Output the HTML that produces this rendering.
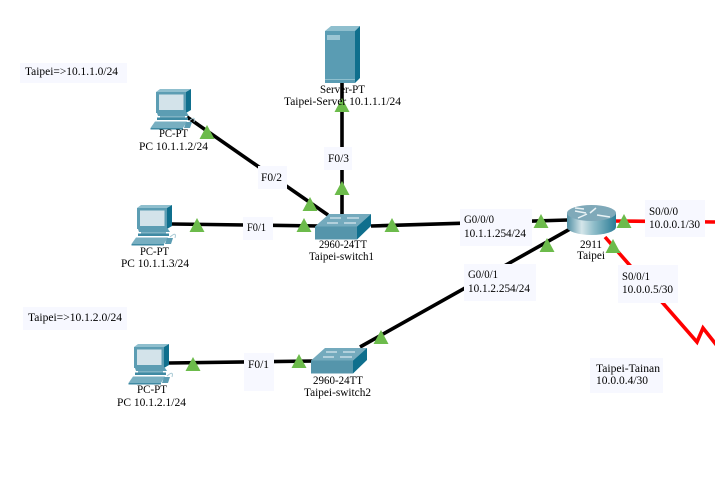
<!DOCTYPE html>
<html>
<head>
<meta charset="utf-8">
<style>
html,body{margin:0;padding:0;background:#fff;width:715px;height:486px;overflow:hidden}
svg{display:block}
text{font-family:"Liberation Serif","Noto Serif CJK SC",serif;font-size:12px;fill:#000}
</style>
</head>
<body>
<svg width="715" height="486" viewBox="0 0 715 486" xmlns="http://www.w3.org/2000/svg">
<defs>
<linearGradient id="rg" x1="0" x2="1" y1="0" y2="0">
<stop offset="0" stop-color="#4f8ea3"/><stop offset=".3" stop-color="#d5e6ea"/><stop offset=".55" stop-color="#8fbdc9"/><stop offset="1" stop-color="#2b7c96"/>
</linearGradient>
<g id="pc">
<polygon points="0,3 4,0 35,0 30,3" fill="#8fbfce"/>
<rect x="0" y="3" width="30" height="21" fill="#5c9db3"/>
<polygon points="30,3 35,0 35,21 30,24" fill="#0f6f8d"/>
<rect x="3" y="5.500" width="24.500" height="15.500" fill="#d3e3ea"/>
<polygon points="1,24 31,24 33,27 2,27" fill="#5c9db3"/>
<polygon points="4,27 29,27 29,31 4,31" fill="#7fb2c3"/>
<polygon points="1,28.500 32,28.500 32,31 1,31" fill="#3f8aa3"/>
<polygon points="-5.500,39 -1,32.500 31,32.500 27,39" fill="#78afc1"/>
<polygon points="-5.500,39 27,39 27,40.500 -5.500,40.500" fill="#3f8aa3"/>
<polygon points="28,39 30,33 36,33 34,39" fill="#5c9db3"/>
<path d="M33,32 Q40,26 38,33" fill="none" stroke="#a8c9d4" stroke-width="1"/>
</g>
<g id="sw">
<polygon points="0,12.500 14,0 56,0 42,12.500" fill="#74aabd"/>
<rect x="0" y="12.500" width="42" height="13" fill="#5595ab"/>
<polygon points="42,12.500 56,0 56,12 42,25.500" fill="#0f6f8d"/>
<path d="M15,4 H26 M32,4 H44 M12,9 H23 M29,9 H41" stroke="#d7e8ee" stroke-width="1.200"/>
</g>
<polygon id="t" points="0,0 7.500,14 -7.500,14" fill="#6cbb4b"/>
</defs>

<g fill="none" stroke="#000" stroke-width="3.600">
<line x1="187" y1="117" x2="328" y2="215"/>
<line x1="172" y1="224" x2="320" y2="226"/>
<line x1="342" y1="83" x2="342" y2="215"/>
<line x1="371" y1="226" x2="568" y2="220"/>
<line x1="360" y1="347" x2="570" y2="229"/>
<line x1="169" y1="363" x2="315" y2="361"/>
</g>
<g fill="none" stroke="#ff0000" stroke-width="3.600">
<line x1="612" y1="221" x2="715" y2="222"/>
<polyline points="605,237 697,342 703,328 718,347"/>
</g>

<g fill="#f7f8ff">
<rect x="20" y="63" width="107" height="20"/>
<rect x="23" y="307" width="104" height="23"/>
<rect x="590" y="358" width="73" height="35"/>
<rect x="258" y="166" width="29" height="23"/>
<rect x="243" y="217" width="30" height="23"/>
<rect x="324" y="147" width="28" height="23"/>
<rect x="244" y="353" width="30" height="38"/>
<rect x="460" y="209" width="72" height="37"/>
<rect x="464" y="264" width="72" height="37"/>
<rect x="645" y="200" width="60" height="37"/>
<rect x="618" y="265" width="60" height="38"/>
</g>

<!-- server -->
<polygon points="325,31 331,26 360,26 355,31" fill="#8fbfce"/>
<rect x="325" y="31" width="30" height="52" fill="#5a9cb3"/>
<polygon points="355,31 360,26 360,78 355,83" fill="#0f6f8d"/>
<rect x="327" y="35" width="13" height="5" fill="#9cc6d4"/>
<rect x="325" y="79" width="30" height="1" fill="#8fbfce"/>

<use href="#pc" x="156" y="89"/>
<use href="#pc" x="137" y="205"/>
<use href="#pc" x="134" y="344"/>
<use href="#sw" x="315" y="214"/>
<use href="#sw" x="311" y="348"/>

<!-- router -->
<path d="M567,213 V227 A24.500,8 0 0 0 616,227 V213 Z" fill="url(#rg)"/>
<ellipse cx="591.500" cy="213" rx="24.500" ry="8" fill="#7fa9b9"/>
<path d="M575,211 L586,213 M578,218 L587,214 M596,208 L590,213 M597,215 L610,217 M584,209 L575,208" stroke="#e9f2f5" stroke-width="1.500" fill="none"/>

<!-- triangles -->
<use href="#t" x="207" y="125"/>
<use href="#t" x="310" y="197"/>
<use href="#t" x="342" y="181"/>
<use href="#t" x="342" y="98"/>
<use href="#t" x="197" y="218"/>
<use href="#t" x="304" y="218"/>
<use href="#t" x="392" y="218"/>
<use href="#t" x="541" y="214"/>
<use href="#t" x="547" y="238"/>
<use href="#t" x="624" y="214"/>
<use href="#t" x="613" y="239"/>
<use href="#t" x="193" y="357"/>
<use href="#t" x="299" y="354"/>
<use href="#t" x="381" y="330"/>

<!-- labels -->
<g lengthAdjust="spacingAndGlyphs">
<text x="25" y="75" textLength="93" lengthAdjust="spacingAndGlyphs">Taipei=&gt;10.1.1.0/24</text>
<text x="28" y="321" textLength="94" lengthAdjust="spacingAndGlyphs">Taipei=&gt;10.1.2.0/24</text>
<text x="320" y="93" textLength="45" lengthAdjust="spacingAndGlyphs">Server-PT</text>
<text x="284" y="105" textLength="117" lengthAdjust="spacingAndGlyphs">Taipei-Server 10.1.1.1/24</text>
<text x="159" y="137" textLength="29" lengthAdjust="spacingAndGlyphs">PC-PT</text>
<text x="139" y="150" textLength="69" lengthAdjust="spacingAndGlyphs">PC 10.1.1.2/24</text>
<text x="140" y="255" textLength="29" lengthAdjust="spacingAndGlyphs">PC-PT</text>
<text x="121" y="267" textLength="68" lengthAdjust="spacingAndGlyphs">PC 10.1.1.3/24</text>
<text x="137" y="393" textLength="30" lengthAdjust="spacingAndGlyphs">PC-PT</text>
<text x="117" y="406" textLength="69" lengthAdjust="spacingAndGlyphs">PC 10.1.2.1/24</text>
<text x="319" y="248" textLength="48" lengthAdjust="spacingAndGlyphs">2960-24TT</text>
<text x="309" y="260" textLength="65" lengthAdjust="spacingAndGlyphs">Taipei-switch1</text>
<text x="313" y="384" textLength="50" lengthAdjust="spacingAndGlyphs">2960-24TT</text>
<text x="304" y="396" textLength="67" lengthAdjust="spacingAndGlyphs">Taipei-switch2</text>
<text x="580" y="248" textLength="22" lengthAdjust="spacingAndGlyphs">2911</text>
<text x="577" y="259" textLength="28" lengthAdjust="spacingAndGlyphs">Taipei</text>
<text x="649" y="215" textLength="29" lengthAdjust="spacingAndGlyphs">S0/0/0</text>
<text x="649" y="228" textLength="51" lengthAdjust="spacingAndGlyphs">10.0.0.1/30</text>
<text x="622" y="280" textLength="28" lengthAdjust="spacingAndGlyphs">S0/0/1</text>
<text x="622" y="293" textLength="51" lengthAdjust="spacingAndGlyphs">10.0.0.5/30</text>
<text x="464" y="223" textLength="30" lengthAdjust="spacingAndGlyphs">G0/0/0</text>
<text x="464" y="237" textLength="62" lengthAdjust="spacingAndGlyphs">10.1.1.254/24</text>
<text x="468" y="278" textLength="30" lengthAdjust="spacingAndGlyphs">G0/0/1</text>
<text x="468" y="292" textLength="62" lengthAdjust="spacingAndGlyphs">10.1.2.254/24</text>
<text x="261" y="181" textLength="21" lengthAdjust="spacingAndGlyphs">F0/2</text>
<text x="247" y="231" textLength="19" lengthAdjust="spacingAndGlyphs">F0/1</text>
<text x="328" y="162" textLength="21" lengthAdjust="spacingAndGlyphs">F0/3</text>
<text x="248" y="368" textLength="21" lengthAdjust="spacingAndGlyphs">F0/1</text>
<text x="596" y="372" textLength="64" lengthAdjust="spacingAndGlyphs">Taipei-Tainan</text>
<text x="596" y="384" textLength="52" lengthAdjust="spacingAndGlyphs">10.0.0.4/30</text>
</g>
</svg>
</body>
</html>
